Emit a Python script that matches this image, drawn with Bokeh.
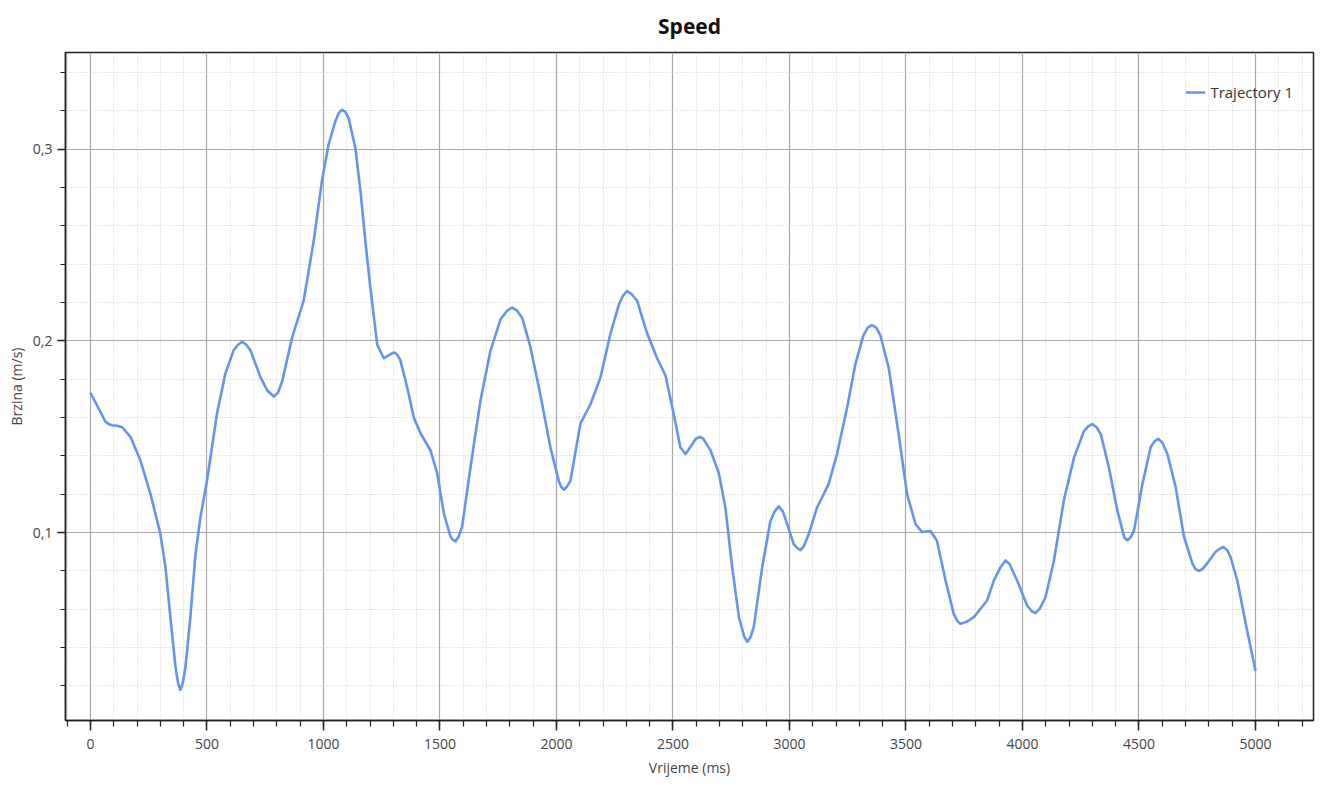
from bokeh.plotting import figure
from bokeh.models import Range1d, FixedTicker, CustomJSTickFormatter, Legend, LegendItem
from bokeh.embed import file_html
from bokeh.resources import INLINE

time_ms = [0, 30, 64, 80, 93, 115, 136, 172, 215, 258, 300, 322, 343, 365, 376, 386, 397, 408, 429, 451,
           472, 500, 543, 579, 614, 633, 651, 669, 687, 730, 760, 787, 805, 823, 866, 915, 958, 993, 1022,
           1051, 1066, 1080, 1094, 1108, 1137, 1159, 1180, 1202, 1231, 1259, 1280, 1302, 1316, 1330, 1359,
           1388, 1416, 1459, 1488, 1517, 1545, 1556, 1567, 1580, 1595, 1631, 1674, 1717, 1760, 1790, 1810,
           1830, 1853, 1888, 1931, 1974, 2010, 2020, 2032, 2045, 2060, 2103, 2146, 2189, 2232, 2268, 2285,
           2303, 2322, 2346, 2389, 2432, 2468, 2503, 2532, 2554, 2582, 2598, 2615, 2630, 2661, 2697, 2725,
           2754, 2783, 2805, 2819, 2833, 2847, 2883, 2918, 2936, 2954, 2972, 2990, 3018, 3033, 3047, 3062,
           3083, 3118, 3168, 3204, 3247, 3283, 3318, 3336, 3354, 3372, 3390, 3426, 3469, 3505, 3541, 3569,
           3605, 3633, 3670, 3705, 3720, 3734, 3760, 3791, 3848, 3877, 3906, 3927, 3945, 3977, 4020, 4040,
           4056, 4075, 4099, 4135, 4178, 4221, 4264, 4282, 4300, 4318, 4336, 4371, 4407, 4437, 4450, 4464,
           4479, 4515, 4550, 4566, 4582, 4600, 4622, 4657, 4693, 4729, 4743, 4757, 4772, 4793, 4829, 4845,
           4862, 4878, 4893, 4922, 4958, 5000]
speed = [0.173, 0.166, 0.158, 0.1565, 0.156, 0.1558, 0.155, 0.150, 0.1375, 0.120, 0.0995, 0.082, 0.056,
         0.030, 0.0215, 0.018, 0.022, 0.030, 0.056, 0.089,
         0.108, 0.127, 0.162, 0.183, 0.195, 0.198, 0.1996, 0.198, 0.195, 0.181, 0.174, 0.171, 0.173, 0.179,
         0.202, 0.221, 0.252, 0.283, 0.3025,
         0.3146, 0.319, 0.3206, 0.3195, 0.3163, 0.3007, 0.278, 0.252, 0.227, 0.198, 0.191, 0.1925, 0.194,
         0.193, 0.190, 0.176,
         0.160, 0.152, 0.143, 0.131, 0.110, 0.098, 0.0962, 0.0955, 0.098, 0.103, 0.134, 0.169, 0.195, 0.2113,
         0.216, 0.2174,
         0.2160, 0.212, 0.197, 0.172, 0.1445, 0.127, 0.124, 0.1224, 0.124, 0.127, 0.157, 0.167, 0.181, 0.204,
         0.219, 0.2235,
         0.226, 0.2245, 0.221, 0.204, 0.191, 0.182, 0.162, 0.1444, 0.141, 0.146, 0.149, 0.150, 0.149, 0.143,
         0.131, 0.113,
         0.082, 0.056, 0.046, 0.043, 0.0455, 0.051, 0.082, 0.106, 0.111, 0.1137, 0.111, 0.1045, 0.094, 0.092,
         0.0909, 0.093,
         0.0993, 0.113, 0.1253, 0.141, 0.165, 0.188, 0.203, 0.207, 0.2083, 0.207, 0.203, 0.186, 0.151, 0.120,
         0.1045, 0.1003,
         0.1009, 0.0958, 0.075, 0.0576, 0.054, 0.0524, 0.0535, 0.0559, 0.0646, 0.075, 0.082, 0.0855, 0.0835,
         0.075, 0.062, 0.059,
         0.058, 0.0605, 0.0663, 0.0855, 0.117, 0.139, 0.153, 0.1555, 0.1566, 0.155, 0.1514, 0.134, 0.1116,
         0.0975, 0.096, 0.0975,
         0.1012, 0.1255, 0.1446, 0.1475, 0.149, 0.147, 0.141, 0.124, 0.098, 0.084, 0.081, 0.080, 0.081, 0.084,
         0.090, 0.0915,
         0.0925, 0.091, 0.0873, 0.075, 0.0526, 0.028]

x_major = [0, 500, 1000, 1500, 2000, 2500, 3000, 3500, 4000, 4500, 5000]
x_minor = list(range(-100, 5300, 100))
y_major = [0.1, 0.2, 0.3]
y_minor = [0.02, 0.04, 0.06, 0.08, 0.12, 0.14, 0.16, 0.18, 0.22, 0.24, 0.26, 0.28, 0.32, 0.34]

FONT = "Open Sans"

p = figure(width=1321, height=790, output_backend="svg", toolbar_location=None,
           x_range=Range1d(-107, 5249), y_range=Range1d(0.002, 0.3505),
           title="Speed", min_border_left=65, min_border_right=8,
           min_border_top=51, min_border_bottom=70)

p.title.align = "center"
p.title.vertical_align = "top"
p.title.text_font = FONT
p.title.text_font_size = "21px"
p.title.text_font_style = "bold"
p.title.text_color = "#111111"
p.title.standoff = 22

p.outline_line_color = "#222222"
p.outline_line_width = 1.5
p.background_fill_color = "white"
p.border_fill_color = "white"

p.xaxis.ticker = FixedTicker(ticks=x_major, minor_ticks=x_minor)
p.yaxis.ticker = FixedTicker(ticks=y_major, minor_ticks=y_minor)
p.yaxis.formatter = CustomJSTickFormatter(code="return tick.toFixed(1).replace('.', ',');")

for ax in (p.xaxis[0], p.yaxis[0]):
    ax.axis_line_color = "#222222"
    ax.axis_line_width = 1.5
    ax.major_tick_line_color = "#222222"
    ax.minor_tick_line_color = "#222222"
    ax.major_tick_line_width = 1.5
    ax.minor_tick_line_width = 1.2
    ax.major_tick_in = 0
    ax.minor_tick_in = 0
    ax.major_label_text_font = FONT
    ax.major_label_text_font_size = "14px"
    ax.major_label_text_color = "#444444"
    ax.axis_label_text_font = FONT
    ax.axis_label_text_font_size = "14px"
    ax.axis_label_text_font_style = "normal"
    ax.axis_label_text_color = "#444444"

p.xaxis.major_tick_out = 10
p.xaxis.minor_tick_out = 6
p.yaxis.major_tick_out = 8
p.yaxis.minor_tick_out = 5
p.xaxis.major_label_standoff = 8
p.yaxis.major_label_standoff = 5
p.xaxis.axis_label = "Vrijeme (ms)"
p.yaxis.axis_label = "Brzina (m/s)"
p.xaxis.axis_label_standoff = 6
p.yaxis.axis_label_standoff = 4

for g in (p.xgrid[0], p.ygrid[0]):
    g.grid_line_color = "#a8a8a8"
    g.grid_line_width = 1.2
    g.minor_grid_line_color = "#cfcfcf"
    g.minor_grid_line_width = 1
    g.minor_grid_line_dash = "1 2"

r = p.line(time_ms, speed, line_color="#6495ED", line_width=2.6, line_join="round")

legend = Legend(items=[LegendItem(label="Trajectory 1", renderers=[r])],
                location="top_right")
legend.border_line_color = None
legend.background_fill_alpha = 0
legend.label_text_font = FONT
legend.label_text_font_size = "15px"
legend.label_text_color = "#333333"
legend.glyph_width = 20
legend.glyph_height = 40
legend.label_height = 40
legend.label_standoff = 5
legend.margin = 20
legend.padding = 10
p.add_layout(legend)

open("out.html", "w").write(file_html(p, INLINE))
